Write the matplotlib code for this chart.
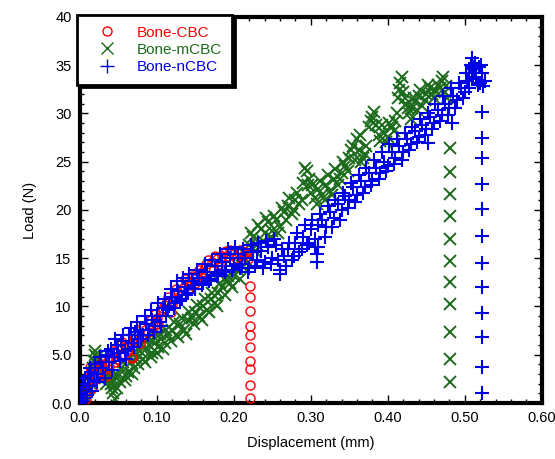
import matplotlib

matplotlib.use("Agg")
import matplotlib.pyplot as plt  # noqa: E402
from matplotlib.ticker import MultipleLocator  # noqa: E402

plt.rcParams["font.family"] = ["Liberation Sans", "DejaVu Sans"]

# --- data (displacement mm, load N) ---
# Bone-CBC: loading cloud, then the drop column at failure
cbc_disp = [0.000, 0.003, 0.006, 0.010, 0.012, 0.015, 0.018, 0.020, 0.024, 0.028,
            0.032, 0.036, 0.040, 0.045, 0.050, 0.055, 0.060, 0.066, 0.070, 0.075,
            0.080, 0.085, 0.090, 0.095, 0.100, 0.105, 0.110, 0.113, 0.118, 0.122,
            0.128, 0.134, 0.138, 0.143, 0.148, 0.152, 0.158, 0.162, 0.166, 0.172,
            0.178, 0.184, 0.190, 0.195, 0.200, 0.205, 0.210, 0.214, 0.218,
            0.002, 0.008, 0.013, 0.016, 0.022, 0.026, 0.030, 0.034, 0.038, 0.043,
            0.048, 0.052, 0.058, 0.063, 0.068, 0.072, 0.078, 0.082, 0.088, 0.092,
            0.098, 0.102, 0.108, 0.115, 0.120, 0.125, 0.131, 0.136, 0.141, 0.146,
            0.150, 0.155, 0.160, 0.164, 0.169, 0.175, 0.181, 0.187, 0.192, 0.198,
            0.203, 0.208, 0.212, 0.216,
            0.221, 0.221, 0.221, 0.221, 0.221, 0.221, 0.221, 0.221, 0.221, 0.221]
cbc_load = [0.0, 0.5, 1.2, 1.0, 2.2, 3.0, 2.4, 3.6, 3.2, 4.0,
            3.5, 4.4, 4.8, 4.2, 5.5, 6.3, 5.8, 4.8, 6.6, 7.2,
            6.8, 7.6, 8.2, 8.0, 8.8, 9.6, 10.2, 10.6, 9.4, 10.8,
            11.4, 11.9, 12.3, 12.2, 12.8, 13.2, 13.6, 14.0, 14.8, 14.6,
            14.9, 15.2, 15.7, 15.9, 15.4, 15.6, 15.8, 15.5, 14.9,
            1.6, 0.4, 3.7, 1.6, 2.6, 3.6, 4.6, 2.8, 3.8, 5.4,
            4.6, 6.0, 6.6, 5.4, 4.7, 7.0, 6.2, 8.0, 7.4, 8.6,
            9.2, 8.2, 9.8, 11.0, 10.2, 11.8, 11.2, 12.8, 11.8, 13.2,
            12.4, 13.8, 13.0, 14.4, 14.0, 15.2, 14.4, 15.6, 15.2, 15.8,
            15.0, 15.9, 15.2, 15.6,
            12.1, 11.0, 9.5, 8.0, 7.0, 5.8, 4.4, 3.5, 1.9, 0.5]

# Bone-mCBC
mcbc_disp = [0.000, 0.004, 0.008, 0.010, 0.014, 0.016, 0.018, 0.020, 0.022, 0.024,
             0.028, 0.032, 0.036, 0.040, 0.043, 0.045, 0.046,
             0.050, 0.054, 0.058, 0.062, 0.066, 0.070, 0.074, 0.078, 0.082, 0.086,
             0.090, 0.094, 0.098, 0.102, 0.106, 0.110, 0.115, 0.120, 0.125, 0.130,
             0.135, 0.140, 0.145, 0.150, 0.155, 0.160, 0.165, 0.170, 0.175, 0.180,
             0.185, 0.190, 0.195, 0.200, 0.205, 0.210, 0.215, 0.220,
             0.225, 0.230, 0.235, 0.240, 0.245, 0.250, 0.255, 0.260, 0.265, 0.270,
             0.275, 0.280, 0.285, 0.290, 0.295, 0.298, 0.300, 0.305, 0.310, 0.315,
             0.320, 0.325, 0.330, 0.335, 0.340, 0.345, 0.350, 0.355, 0.360, 0.362,
             0.365, 0.370, 0.375, 0.380, 0.385, 0.390, 0.395, 0.400, 0.405, 0.410,
             0.413, 0.416, 0.420, 0.424, 0.428, 0.432, 0.436, 0.440, 0.445, 0.450,
             0.455, 0.460, 0.465, 0.470, 0.474, 0.477,
             0.002, 0.006, 0.012, 0.017, 0.019, 0.021, 0.026, 0.030, 0.034, 0.038,
             0.042, 0.044, 0.048, 0.052, 0.056, 0.060, 0.064, 0.068, 0.072, 0.076,
             0.080, 0.084, 0.088, 0.092, 0.096, 0.100, 0.104, 0.108, 0.112, 0.118,
             0.122, 0.128, 0.132, 0.138, 0.142, 0.148, 0.152, 0.158, 0.162, 0.168,
             0.172, 0.178, 0.182, 0.188, 0.192, 0.198, 0.202, 0.208, 0.212, 0.218,
             0.222, 0.228, 0.232, 0.238, 0.242, 0.248, 0.252, 0.258, 0.262, 0.268,
             0.272, 0.278, 0.282, 0.288, 0.292, 0.296, 0.302, 0.308, 0.312, 0.318,
             0.322, 0.328, 0.332, 0.338, 0.342, 0.348, 0.352, 0.358, 0.364, 0.368,
             0.372, 0.378, 0.382, 0.388, 0.392, 0.398, 0.402, 0.408, 0.412, 0.415,
             0.418, 0.422, 0.426, 0.430, 0.434, 0.438, 0.442, 0.448, 0.452, 0.458,
             0.462, 0.468, 0.472, 0.476,
             0.481, 0.481, 0.481, 0.481, 0.481, 0.481, 0.481, 0.481, 0.481, 0.481, 0.481]
mcbc_load = [0.0, 0.6, 1.4, 0.4, 2.0, 3.0, 4.4, 5.4, 4.8, 3.8,
             3.2, 2.6, 3.0, 2.0, 1.0, 0.4, 2.8,
             2.8, 3.6, 2.4, 3.2, 4.2, 3.6, 4.6, 5.4, 4.6, 5.6,
             6.0, 5.2, 6.2, 5.8, 6.6, 6.2, 7.0, 7.6, 7.0, 8.2,
             7.6, 8.6, 8.8, 9.4, 9.0, 10.0, 9.6, 10.8, 10.4, 11.4,
             12.0, 12.6, 12.4, 13.2, 13.8, 14.2, 15.4, 16.4,
             17.2, 16.4, 18.0, 17.6, 18.8, 17.8, 19.0, 18.2, 19.8, 20.4,
             19.6, 21.0, 20.6, 22.8, 24.0, 23.2, 21.8, 21.2, 22.2, 21.6,
             22.6, 22.0, 23.2, 22.6, 23.8, 24.6, 25.4, 26.6, 27.4, 26.2,
             25.0, 25.8, 28.6, 29.6, 28.8, 27.2, 28.0, 27.6, 28.6, 29.2,
             31.6, 33.2, 32.2, 31.0, 30.0, 30.6, 31.2, 31.8, 30.8, 32.0,
             32.6, 31.6, 33.0, 33.4, 32.2, 31.6,
             0.2, 1.0, 1.6, 3.6, 5.0, 4.2, 2.6, 3.8, 2.0, 2.6,
             1.6, 2.4, 1.6, 2.2, 4.2, 2.8, 4.8, 3.0, 5.2, 4.0,
             6.0, 4.2, 6.6, 4.8, 6.8, 5.2, 7.2, 5.6, 7.6, 6.4,
             8.4, 6.8, 8.8, 7.2, 9.4, 8.2, 10.2, 8.6, 10.8, 9.4,
             11.4, 10.0, 12.4, 11.2, 13.2, 12.0, 14.0, 12.8, 15.0, 14.6,
             17.6, 15.8, 18.4, 16.8, 19.2, 17.2, 19.4, 17.6, 20.2, 19.0,
             21.2, 20.0, 21.8, 21.0, 24.4, 22.6, 22.6, 20.6, 23.0, 21.0,
             23.6, 21.6, 24.2, 23.2, 25.0, 24.0, 26.2, 25.2, 27.8, 25.4,
             26.6, 29.2, 30.2, 27.8, 28.8, 27.0, 29.0, 28.2, 30.0, 32.4,
             33.8, 31.6, 30.6, 29.4, 31.6, 30.4, 32.4, 31.4, 33.0, 32.0,
             32.4, 32.6, 33.8, 32.8,
             26.4, 23.9, 21.7, 19.4, 17.0, 14.7, 12.5, 10.3, 7.4, 4.6, 2.2]

# Bone-nCBC
ncbc_disp = [0.000, 0.002, 0.004, 0.005, 0.008, 0.010, 0.012, 0.015, 0.018, 0.020,
             0.024, 0.028, 0.030, 0.034, 0.038, 0.040, 0.044, 0.048, 0.050, 0.054,
             0.058, 0.060, 0.064, 0.068, 0.072, 0.075, 0.078, 0.082, 0.086, 0.090,
             0.094, 0.098, 0.100, 0.104, 0.108, 0.112, 0.116, 0.120, 0.124, 0.128,
             0.132, 0.136, 0.140, 0.145, 0.150, 0.155, 0.160, 0.165, 0.170, 0.175,
             0.180, 0.185, 0.190, 0.195, 0.200, 0.205, 0.210, 0.215, 0.220, 0.225,
             0.230, 0.235, 0.240, 0.245, 0.250, 0.255, 0.260, 0.265, 0.270, 0.275,
             0.280, 0.285, 0.290, 0.295,
             0.300, 0.305, 0.308, 0.308, 0.309, 0.310, 0.315, 0.320, 0.325, 0.330,
             0.335, 0.340, 0.345, 0.350, 0.355, 0.360, 0.365, 0.370, 0.375, 0.380,
             0.385, 0.390, 0.395, 0.400, 0.405, 0.410, 0.415, 0.420, 0.425, 0.430,
             0.435, 0.440, 0.445, 0.450, 0.455, 0.460, 0.465, 0.470, 0.475, 0.480,
             0.485, 0.490, 0.495, 0.500, 0.503, 0.506, 0.508, 0.510, 0.512, 0.515,
             0.518, 0.520, 0.523, 0.526,
             0.003, 0.006, 0.009, 0.013, 0.016, 0.022, 0.026, 0.032, 0.036, 0.042,
             0.046, 0.052, 0.056, 0.062, 0.066, 0.070, 0.074, 0.080, 0.084, 0.088,
             0.092, 0.096, 0.102, 0.106, 0.110, 0.114, 0.118, 0.122, 0.126, 0.130,
             0.134, 0.138, 0.142, 0.148, 0.152, 0.158, 0.162, 0.168, 0.172, 0.178,
             0.182, 0.188, 0.192, 0.198, 0.202, 0.208, 0.212, 0.218, 0.222, 0.228,
             0.232, 0.238, 0.242, 0.248, 0.252, 0.258, 0.262, 0.268, 0.272, 0.278,
             0.282, 0.288, 0.292, 0.298, 0.302, 0.306, 0.312, 0.318, 0.322, 0.328,
             0.332, 0.338, 0.342, 0.348, 0.352, 0.358, 0.362, 0.368, 0.372, 0.378,
             0.382, 0.388, 0.392, 0.398, 0.402, 0.408, 0.412, 0.418, 0.422, 0.428,
             0.432, 0.438, 0.442, 0.448, 0.452, 0.458, 0.462, 0.468, 0.472, 0.478,
             0.482, 0.488, 0.492, 0.498, 0.502, 0.505, 0.509, 0.511, 0.514, 0.517,
             0.521, 0.524, 0.452, 0.483, 0.260,
             0.522, 0.522, 0.522, 0.522, 0.522, 0.522, 0.522, 0.522, 0.522, 0.522,
             0.522, 0.522]
ncbc_load = [0.0, 1.0, 2.0, 0.5, 1.5, 2.8, 1.8, 3.2, 2.4, 4.0,
             3.0, 4.3, 3.6, 5.0, 4.2, 5.6, 4.8, 6.0, 5.2, 6.4,
             5.4, 4.6, 7.0, 6.2, 7.4, 6.6, 7.6, 7.0, 8.2, 7.6,
             8.6, 8.0, 9.0, 8.4, 9.8, 9.0, 10.0, 11.0, 10.4, 11.6,
             10.8, 12.0, 11.4, 12.6, 11.8, 13.0, 12.4, 13.6, 12.8, 14.2,
             13.4, 14.6, 13.8, 15.0, 14.2, 15.4, 14.4, 15.0, 14.0, 15.6,
             14.8, 15.8, 14.6, 16.2, 15.0, 16.4, 13.8, 15.2, 16.0, 14.8,
             16.6, 15.6, 17.2, 16.4,
             18.0, 17.0, 14.6, 15.4, 16.2, 18.4, 19.0, 18.2, 19.8, 19.2,
             20.6, 20.0, 21.4, 21.0, 22.4, 21.6, 23.0, 22.4, 23.8, 23.0,
             24.4, 23.8, 25.0, 24.6, 26.0, 25.4, 26.6, 26.0, 27.4, 26.8,
             28.2, 27.6, 28.8, 28.4, 29.6, 29.0, 30.4, 29.8, 31.0, 30.6,
             31.8, 31.4, 32.6, 32.2, 33.4, 34.2, 35.0, 35.8, 34.6, 33.8,
             34.8, 33.2, 34.2, 33.4,
             0.2, 2.6, 0.8, 3.6, 1.2, 2.2, 4.8, 2.6, 5.4, 3.4,
             6.6, 4.4, 7.0, 5.6, 7.8, 5.8, 8.4, 6.6, 9.0, 7.0,
             9.6, 7.4, 10.4, 8.0, 10.8, 9.6, 11.8, 9.8, 12.6, 10.6,
             13.0, 11.2, 13.4, 12.2, 13.8, 12.2, 14.4, 12.6, 14.8, 13.2,
             15.4, 13.6, 16.0, 13.8, 16.2, 14.0, 16.0, 13.6, 16.4, 14.2,
             16.6, 14.0, 16.8, 14.4, 17.0, 14.8, 16.0, 14.2, 16.6, 15.2,
             17.6, 16.0, 18.4, 16.6, 19.0, 16.2, 19.6, 17.2, 20.4, 18.2,
             21.0, 19.0, 21.8, 20.2, 22.8, 20.8, 23.6, 21.8, 24.4, 22.6,
             25.2, 23.2, 26.0, 24.0, 26.8, 24.8, 27.4, 25.2, 28.0, 26.2,
             28.6, 27.0, 29.4, 27.8, 30.0, 28.4, 31.0, 29.2, 31.8, 29.8,
             32.6, 30.6, 33.2, 31.6, 34.2, 32.6, 33.6, 34.8, 35.2, 33.0,
             35.0, 32.8, 26.9, 29.0, 13.4,
             30.2, 27.5, 25.4, 22.7, 20.1, 17.3, 14.5, 12.0, 9.3, 6.8,
             3.7, 1.0]

labels = ["Bone-CBC", "Bone-mCBC", "Bone-nCBC"]
colors = ["#FF0000", "#1C6B1C", "#0000E6"]

fig = plt.figure(figsize=(5.55, 4.59), dpi=100)
ax = fig.add_axes([0.144, 0.122, 0.832, 0.841])

ax.plot(cbc_disp, cbc_load, "o", ls="none", mfc="none", mec=colors[0],
        ms=6.5, mew=1.0, label=labels[0], zorder=3)
ax.plot(mcbc_disp, mcbc_load, "x", ls="none", color=colors[1],
        ms=8, mew=1.4, label=labels[1], zorder=2)
ax.plot(ncbc_disp, ncbc_load, "+", ls="none", color=colors[2],
        ms=10, mew=1.5, label=labels[2], zorder=4)

ax.set_xlim(0, 0.60)
ax.set_ylim(0, 40)
ax.xaxis.set_minor_locator(MultipleLocator(0.02))
ax.yaxis.set_minor_locator(MultipleLocator(1))
ax.set_xticks([0, 0.1, 0.2, 0.3, 0.4, 0.5, 0.6],
              ["0.0", "0.10", "0.20", "0.30", "0.40", "0.50", "0.60"])
ax.set_yticks([0, 5, 10, 15, 20, 25, 30, 35, 40],
              ["0.0", "5.0", "10", "15", "20", "25", "30", "35", "40"])
ax.tick_params(which="both", direction="in", top=True, right=True,
               labelsize=10.5, width=1.0, pad=6)
ax.tick_params(which="major", length=6)
ax.tick_params(which="minor", length=3)
for s in ax.spines.values():
    s.set_linewidth(3.0)

ax.set_xlabel("Displacement (mm)", fontsize=10.5, labelpad=8)
ax.set_ylabel("Load (N)", fontsize=10.5, labelpad=10)

leg = ax.legend(loc="upper left", bbox_to_anchor=(-0.007, 1.005),
                borderaxespad=0, fancybox=False, fontsize=11,
                handlelength=2.6, handletextpad=0.6, labelspacing=0.2,
                borderpad=0.7, shadow={"color": "black", "alpha": 1.0})
leg.get_frame().set_edgecolor("black")
leg.get_frame().set_linewidth(2.0)
leg.set_zorder(10)
for t, c in zip(leg.get_texts(), colors):
    t.set_color(c)
# legend markers drawn with thinner strokes, like the reference key
for h in leg.legend_handles:
    h.set_markeredgewidth(1.0)

fig.savefig("out.png", dpi=100)
